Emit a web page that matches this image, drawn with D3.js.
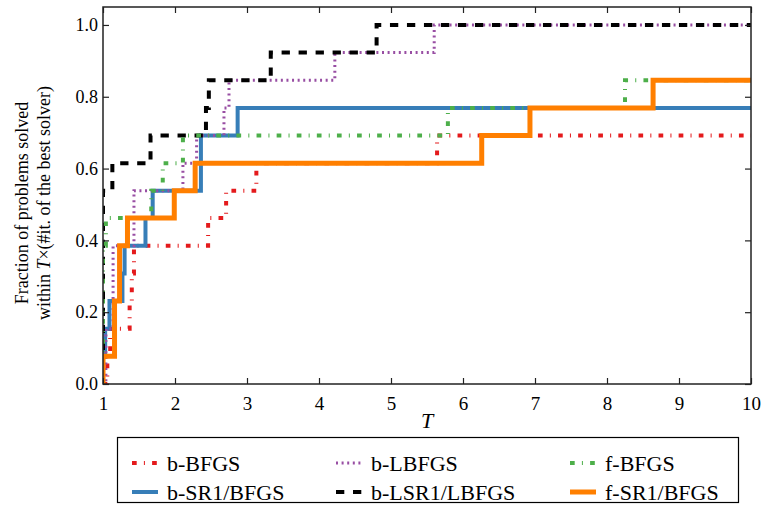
<!DOCTYPE html>
<html>
<head>
<meta charset="utf-8">
<script src="https://cdn.jsdelivr.net/npm/d3@7"></script>
<style>
  body { margin: 0; background: #fff; }
  text { font-family: "Liberation Serif", "Times New Roman", serif; fill: #000; }
</style>
</head>
<body>
<div id="chart"></div>
<script>
// step positions (T) and fraction solved after each step
var names = ["b-BFGS", "b-SR1/BFGS", "b-LBFGS", "b-LSR1/LBFGS", "f-BFGS", "f-SR1/BFGS"];

var tBBFGS = [1.06, 1.10, 1.37, 1.40, 1.43, 2.46, 2.71, 3.13, 5.64];
var vBBFGS = [0.077, 0.154, 0.231, 0.308, 0.385, 0.462, 0.538, 0.615, 0.692];

var tBSR1 = [1, 1.03, 1.09, 1.27, 1.30, 1.59, 1.69, 2.36, 2.87];
var vBSR1 = [0.077, 0.154, 0.231, 0.308, 0.385, 0.462, 0.538, 0.692, 0.769];

var tBLBFGS = [1.04, 1.14, 1.43, 2.11, 2.30, 2.68, 2.75, 4.22, 5.60];
var vBLBFGS = [0.154, 0.385, 0.538, 0.615, 0.692, 0.769, 0.846, 0.923, 1.0];

var tBLSR1 = [1, 1.13, 1.66, 2.43, 2.47, 3.33, 4.80];
var vBLSR1 = [0.538, 0.615, 0.692, 0.769, 0.846, 0.923, 1.0];

var tFBFGS = [1, 1.04, 1.67, 1.83, 2.11, 5.79, 8.25];
var vFBFGS = [0.385, 0.462, 0.538, 0.615, 0.692, 0.769, 0.846];

var tFSR1 = [1, 1.16, 1.23, 1.34, 1.99, 2.28, 6.26, 6.93, 8.64];
var vFSR1 = [0.077, 0.231, 0.385, 0.462, 0.538, 0.615, 0.692, 0.769, 0.846];

var xTicks = [1, 2, 3, 4, 5, 6, 7, 8, 9, 10];
var yTicks = [0, 0.2, 0.4, 0.6, 0.8, 1.0];

var seriesT = [tBBFGS, tBSR1, tBLBFGS, tBLSR1, tFBFGS, tFSR1];
var seriesV = [vBBFGS, vBSR1, vBLBFGS, vBLSR1, vFBFGS, vFSR1];
var colors = ["#e41a1c", "#377eb8", "#984ea3", "#000000", "#4daf4a", "#ff7f00"];
var widths = [4, 4, 3, 4, 4, 5];
var dashes = ["4.7,7.2,1,7.2", null, "2,3.6", "8.3,8.7", "4.7,7.2,1,7.2", null];

var W = 761, H = 519;
var margin = {top: 7, left: 103, right: 10, bottom: 135};
var width = 751 - margin.left;
var height = 384 - margin.top;

var svg = d3.select("#chart")
    .append("svg")
    .attr("width", W)
    .attr("height", H);

var g = svg.append("g")
    .attr("transform", "translate(" + margin.left + "," + margin.top + ")");

var x = d3.scaleLinear().domain([1, 10]).range([0, width]);
var y = d3.scaleLinear().domain([0, 1.05]).range([height, 0]);

g.append("clipPath").attr("id", "clip")
  .append("rect").attr("width", width).attr("height", height);

var line = d3.line()
    .x(function(d){ return x(d[0]); })
    .y(function(d){ return y(d[1]); })
    .curve(d3.curveStepAfter);

var lines = g.append("g").attr("clip-path", "url(#clip)");

names.forEach(function(name, i){
    var pts = [[1, 0]];
    seriesT[i].forEach(function(t, j){ pts.push([t, seriesV[i][j]]); });
    pts.push([10, seriesV[i][seriesV[i].length - 1]]);
    lines.append("path")
        .datum(pts)
        .attr("d", line)
        .attr("fill", "none")
        .attr("stroke", colors[i])
        .attr("stroke-width", widths[i])
        .attr("stroke-dasharray", dashes[i]);
});

// axes with inward ticks on all sides
var tickLen = 6;
g.append("g")
    .attr("transform", "translate(0," + height + ")")
    .call(d3.axisBottom(x).tickValues(xTicks).tickSizeInner(-tickLen).tickSizeOuter(0).tickPadding(9).tickFormat(d3.format("d")))
    .call(function(a){ a.selectAll("text").style("font-size", "19px").attr("dy", "0.9em"); });
g.append("g")
    .call(d3.axisTop(x).tickValues(xTicks).tickSizeInner(-tickLen).tickSizeOuter(0).tickFormat(""));
g.append("g")
    .call(d3.axisLeft(y).tickValues(yTicks).tickSizeInner(-tickLen).tickSizeOuter(0).tickPadding(5).tickFormat(d3.format(".1f")))
    .call(function(a){ a.selectAll("text").style("font-size", "18px"); });
g.append("g")
    .attr("transform", "translate(" + width + ",0)")
    .call(d3.axisRight(y).tickValues(yTicks).tickSizeInner(-tickLen).tickSizeOuter(0).tickFormat(""));

g.selectAll(".domain").remove();
g.selectAll(".tick line").attr("stroke", "#222").attr("stroke-width", 1.2);
g.selectAll(".tick text").attr("fill", "#000").style("font-family", "Liberation Serif, serif");

g.append("rect")
    .attr("width", width)
    .attr("height", height)
    .attr("fill", "none")
    .attr("stroke", "#222")
    .attr("stroke-width", 1.5);

// axis titles
g.append("text")
    .attr("x", x(5.5))
    .attr("y", height + 44)
    .attr("text-anchor", "middle")
    .style("font-size", "22px")
    .style("font-style", "italic")
    .text("T");

var ylab = svg.append("g")
    .attr("transform", "translate(28,203) rotate(-90)");
ylab.append("text")
    .attr("text-anchor", "middle")
    .style("font-size", "18px")
    .text("Fraction of problems solved");
var l2 = ylab.append("text")
    .attr("y", 22)
    .attr("text-anchor", "middle")
    .style("font-size", "18px");
l2.append("tspan").text("within ");
l2.append("tspan").style("font-style", "italic").text("T");
l2.append("tspan").text("\u00d7(#it. of the best solver)");

// legend, filled column by column like matplotlib ncol=3
var legend = svg.append("g");
legend.append("rect")
    .attr("x", 117.5).attr("y", 437.5)
    .attr("width", 621).attr("height", 65)
    .attr("fill", "#fff")
    .attr("stroke", "#000")
    .attr("stroke-width", 1.2);

var colX = [132, 336, 570];
var rowY = [463, 492];
names.forEach(function(name, i){
    var c = Math.floor(i / 2), r = i % 2;
    var lg = legend.append("g").attr("transform", "translate(" + colX[c] + "," + rowY[r] + ")");
    lg.append("line")
        .attr("x1", 0).attr("x2", 26).attr("y1", 0).attr("y2", 0)
        .attr("stroke", colors[i])
        .attr("stroke-width", widths[i])
        .attr("stroke-dasharray", dashes[i]);
    lg.append("text")
        .attr("x", 35)
        .attr("y", 7.5)
        .style("font-size", "22px")
        .text(name);
});
</script>
</body>
</html>
